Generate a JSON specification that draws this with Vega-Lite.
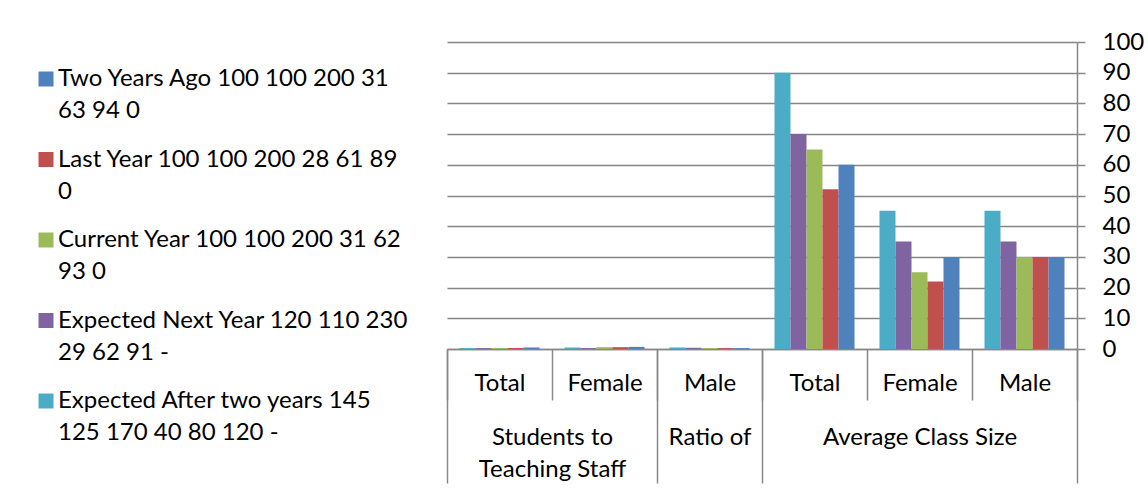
{
  "$schema": "https://vega.github.io/schema/vega-lite/v6.json",
  "autosize": {"type": "none"},
  "width": 630,
  "height": 307,
  "padding": {"left": 447, "top": 42, "right": 71, "bottom": 142},
  "background": "white",
  "config": {
    "view": {"stroke": null},
    "font": "Lato",
    "style": {"guide-label": {"lineHeight": 32}},
    "axis": {"labelFont": "Lato", "labelFontSize": 24, "labelColor": "#000000", "domainColor": "#888888", "tickColor": "#888888", "domainWidth": 1.5, "tickWidth": 1.5, "title": null},
    "legend": {"labelFont": "Lato", "labelFontSize": 24, "labelColor": "#000000"}
  },
  "layer": [
    {
      "data": {"values": [
        {"category": "Ratio: Total", "series": "Expected After two years 145 125 170 40 80 120 -", "value": 0.3},
        {"category": "Ratio: Total", "series": "Expected Next Year 120 110 230 29 62 91 -", "value": 0.3},
        {"category": "Ratio: Total", "series": "Current Year 100 100 200 31 62 93 0", "value": 0.3},
        {"category": "Ratio: Total", "series": "Last Year 100 100 200 28 61 89 0", "value": 0.3},
        {"category": "Ratio: Total", "series": "Two Years Ago 100 100 200 31 63 94 0", "value": 0.5},
        {"category": "Ratio: Female", "series": "Expected After two years 145 125 170 40 80 120 -", "value": 0.5},
        {"category": "Ratio: Female", "series": "Expected Next Year 120 110 230 29 62 91 -", "value": 0.3},
        {"category": "Ratio: Female", "series": "Current Year 100 100 200 31 62 93 0", "value": 0.6},
        {"category": "Ratio: Female", "series": "Last Year 100 100 200 28 61 89 0", "value": 0.6},
        {"category": "Ratio: Female", "series": "Two Years Ago 100 100 200 31 63 94 0", "value": 0.7},
        {"category": "Ratio: Male", "series": "Expected After two years 145 125 170 40 80 120 -", "value": 0.5},
        {"category": "Ratio: Male", "series": "Expected Next Year 120 110 230 29 62 91 -", "value": 0.4},
        {"category": "Ratio: Male", "series": "Current Year 100 100 200 31 62 93 0", "value": 0.3},
        {"category": "Ratio: Male", "series": "Last Year 100 100 200 28 61 89 0", "value": 0.3},
        {"category": "Ratio: Male", "series": "Two Years Ago 100 100 200 31 63 94 0", "value": 0.3},
        {"category": "Class: Total", "series": "Expected After two years 145 125 170 40 80 120 -", "value": 90},
        {"category": "Class: Total", "series": "Expected Next Year 120 110 230 29 62 91 -", "value": 70},
        {"category": "Class: Total", "series": "Current Year 100 100 200 31 62 93 0", "value": 65},
        {"category": "Class: Total", "series": "Last Year 100 100 200 28 61 89 0", "value": 52},
        {"category": "Class: Total", "series": "Two Years Ago 100 100 200 31 63 94 0", "value": 60},
        {"category": "Class: Female", "series": "Expected After two years 145 125 170 40 80 120 -", "value": 45},
        {"category": "Class: Female", "series": "Expected Next Year 120 110 230 29 62 91 -", "value": 35},
        {"category": "Class: Female", "series": "Current Year 100 100 200 31 62 93 0", "value": 25},
        {"category": "Class: Female", "series": "Last Year 100 100 200 28 61 89 0", "value": 22},
        {"category": "Class: Female", "series": "Two Years Ago 100 100 200 31 63 94 0", "value": 30},
        {"category": "Class: Male", "series": "Expected After two years 145 125 170 40 80 120 -", "value": 45},
        {"category": "Class: Male", "series": "Expected Next Year 120 110 230 29 62 91 -", "value": 35},
        {"category": "Class: Male", "series": "Current Year 100 100 200 31 62 93 0", "value": 30},
        {"category": "Class: Male", "series": "Last Year 100 100 200 28 61 89 0", "value": 30},
        {"category": "Class: Male", "series": "Two Years Ago 100 100 200 31 63 94 0", "value": 30}
      ]},
      "mark": {"type": "bar"},
      "encoding": {
        "x": {
          "field": "category", "type": "nominal",
          "scale": {"domain": ["Ratio: Total", "Ratio: Female", "Ratio: Male", "Class: Total", "Class: Female", "Class: Male"], "paddingInner": 0, "paddingOuter": 0},
          "axis": {"orient": "bottom", "labelAngle": 0, "labelExpr": "split(datum.label, ': ')[1]", "tickBand": "extent", "tickSize": 51, "labelPadding": -10, "labelBaseline": "alphabetic", "grid": false}
        },
        "xOffset": {
          "field": "series", "type": "nominal",
          "scale": {"domain": ["Expected After two years 145 125 170 40 80 120 -", "Expected Next Year 120 110 230 29 62 91 -", "Current Year 100 100 200 31 62 93 0", "Last Year 100 100 200 28 61 89 0", "Two Years Ago 100 100 200 31 63 94 0"], "paddingInner": 0, "paddingOuter": 0.78}
        },
        "y": {
          "field": "value", "type": "quantitative",
          "scale": {"domain": [0, 100], "nice": false},
          "axis": {"orient": "right", "values": [0, 10, 20, 30, 40, 50, 60, 70, 80, 90, 100], "grid": true, "gridColor": "#868686", "gridWidth": 1.5, "tickSize": 8, "labelPadding": 17, "labelAlign": "left"}
        },
        "color": {
          "field": "series", "type": "nominal",
          "scale": {"domain": ["Two Years Ago 100 100 200 31 63 94 0", "Last Year 100 100 200 28 61 89 0", "Current Year 100 100 200 31 62 93 0", "Expected Next Year 120 110 230 29 62 91 -", "Expected After two years 145 125 170 40 80 120 -"], "range": ["#4F81BD", "#C0504D", "#9BBB59", "#8064A2", "#4BACC6"]},
          "legend": {
            "title": null, "orient": "none", "legendX": -413, "legendY": 25,
            "symbolType": "square", "symbolSize": 225, "symbolStrokeWidth": 0, "symbolOpacity": 1,
            "labelOffset": 0, "labelBaseline": "middle", "rowPadding": 24.5, "labelLimit": 400,
            "labelExpr": "datum.label == 'Two Years Ago 100 100 200 31 63 94 0' ? ['Two Years Ago 100 100 200 31', '63 94 0'] : datum.label == 'Last Year 100 100 200 28 61 89 0' ? ['Last Year 100 100 200 28 61 89', '0'] : datum.label == 'Current Year 100 100 200 31 62 93 0' ? ['Current Year 100 100 200 31 62', '93 0'] : datum.label == 'Expected Next Year 120 110 230 29 62 91 -' ? ['Expected Next Year 120 110 230', '29 62 91 -'] : ['Expected After two years 145', '125 170 40 80 120 -']"
          }
        }
      }
    },
    {
      "data": {"values": [
        {"group": "Students to Teaching Staff", "start": 0, "middle": 1, "end": 2},
        {"group": "Ratio of", "start": 2, "middle": 2.5, "end": 3},
        {"group": "Average Class Size", "start": 3, "middle": 4.5, "end": 6}
      ]},
      "mark": {"type": "point", "opacity": 0},
      "encoding": {
        "x": {
          "field": "middle", "type": "quantitative",
          "scale": {"domain": [0, 6], "nice": false, "zero": false},
          "axis": {"orient": "bottom", "values": [0, 1, 2, 2.5, 3, 4.5, 6], "domain": false, "grid": false, "tickSize": 134, "labelPadding": -39, "labelBaseline": "alphabetic", "labelOverlap": false, "labelBound": false, "labelFlush": false, "labelLimit": 400,
            "tickOpacity": {"condition": {"test": "datum.value == 1 || datum.value == 2.5 || datum.value == 4.5", "value": 0}, "value": 1},
            "labelExpr": "datum.value == 1 ? ['Students to', 'Teaching Staff'] : datum.value == 2.5 ? 'Ratio of' : datum.value == 4.5 ? 'Average Class Size' : ''"}
        }
      }
    }
  ],
  "resolve": {"scale": {"x": "independent"}, "axis": {"x": "independent"}}
}
